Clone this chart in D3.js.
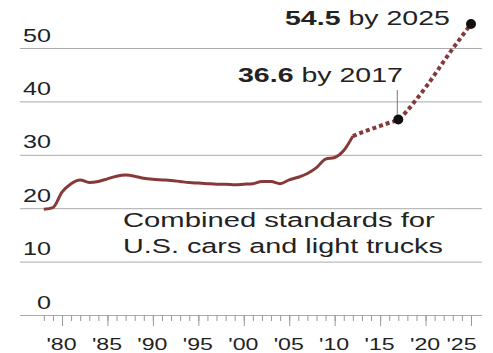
<!DOCTYPE html>
<html>
<head>
<meta charset="utf-8">
<script src="https://cdn.jsdelivr.net/npm/d3@7"></script>
<style>
  body { margin: 0; background: #fff; }
  text { font-family: "Liberation Sans", Arial, sans-serif; fill: #222; }
</style>
</head>
<body>
<div id="chart"></div>
<script>
// historical combined fuel economy (solid)
const histYears = [1978, 1979, 1980, 1981, 1982, 1983, 1984, 1985, 1986, 1987, 1988, 1989,
  1990, 1991, 1992, 1993, 1994, 1995, 1996, 1997, 1998, 1999, 2000, 2001, 2002, 2003,
  2004, 2005, 2006, 2007, 2008, 2009, 2010, 2011, 2012];
const histMpg = [19.8, 20.1, 23.0, 24.6, 25.3, 24.8, 25.0, 25.5, 26.0, 26.2, 26.0, 25.6,
  25.4, 25.3, 25.2, 25.0, 24.8, 24.7, 24.6, 24.5, 24.5, 24.4, 24.5, 24.6, 25.0, 25.0,
  24.6, 25.3, 25.8, 26.5, 27.6, 29.2, 29.5, 30.8, 33.5];

// standards (dotted)
const projYears = [2012, 2013, 2014, 2015, 2016, 2017, 2018, 2019, 2020, 2021, 2022, 2023, 2024, 2025];
const projMpg = [33.5, 34.2, 34.8, 35.4, 36.0, 36.6, 38.3, 40.4, 42.6, 45.0, 47.5, 49.9, 52.2, 54.5];

const markers = [
  {year: 2017, value: 36.6, bold: "36.6", rest: " by 2017"},
  {year: 2025, value: 54.5, bold: "54.5", rest: " by 2025"}
];

const yTicks = [0, 10, 20, 30, 40, 50];
const majorYears = [1980, 1985, 1990, 1995, 2000, 2005, 2010, 2015, 2020, 2025];
const minorYears = [1978, 1979, 1980, 1981, 1982, 1983, 1984, 1985, 1986, 1987, 1988, 1989,
  1990, 1991, 1992, 1993, 1994, 1995, 1996, 1997, 1998, 1999, 2000, 2001, 2002, 2003,
  2004, 2005, 2006, 2007, 2008, 2009, 2010, 2011, 2012, 2013, 2014, 2015, 2016, 2017,
  2018, 2019, 2020, 2021, 2022, 2023, 2024, 2025];
const yearLabel = d => "'" + String(d).slice(2);

const width = 493, height = 353;
const lineColor = "#863939";

const svg = d3.select("#chart").append("svg")
  .attr("width", width)
  .attr("height", height);

const x = d3.scaleLinear().domain([1980, 2025]).range([62, 471]);
const y = d3.scaleLinear().domain([0, 50]).range([315, 48]);

// stretch a text horizontally to a given width
function stretch(sel, px, py, w, anchor) {
  sel.attr("text-anchor", anchor || "start");
  const len = sel.node().getComputedTextLength();
  sel.attr("transform", `translate(${px},${py}) scale(${w / len},1)`);
}

// gridlines + y labels
const yAxis = svg.append("g")
  .attr("transform", "translate(482,0)")
  .call(d3.axisLeft(y).tickValues(yTicks).tickSize(462).tickFormat(d3.format("d")));
yAxis.select(".domain").remove();
yAxis.selectAll("line").attr("stroke", "#aaa").attr("stroke-width", 1);
yAxis.selectAll("text")
  .attr("x", 0).attr("dy", null)
  .style("font-size", "18px")
  .each(function(d) {
    const t = d3.select(this);
    t.attr("y", 0);
    t.attr("text-anchor", "end")
     .attr("transform", `translate(-431,${-7}) scale(1.4,1)`);
  });

// minor ticks
const minor = svg.append("g")
  .attr("transform", "translate(0,315)")
  .call(d3.axisBottom(x).tickValues(minorYears).tickSize(6).tickFormat(""));
minor.select(".domain").remove();
minor.selectAll("line").attr("stroke", "#999");

// major ticks
const major = svg.append("g")
  .attr("transform", "translate(0,315)")
  .call(d3.axisBottom(x).tickValues(majorYears).tickSize(11).tickFormat(yearLabel));
major.select(".domain").remove();
major.selectAll("line").attr("stroke", "#999");
major.selectAll("text")
  .attr("y", 0).attr("dy", null)
  .style("font-size", "17px")
  .attr("transform", d => `translate(${d === 2025 ? -10 : -1},35) scale(1.36,1)`);

// lines
const line = d3.line()
  .x(d => x(d[0]))
  .y(d => y(d[1]))
  .curve(d3.curveMonotoneX);

svg.append("path")
  .datum(histYears.map((yr, i) => [yr, histMpg[i]]))
  .attr("d", line)
  .attr("fill", "none")
  .attr("stroke", lineColor)
  .attr("stroke-width", 3)
  .attr("stroke-linejoin", "round");

svg.append("path")
  .datum(projYears.map((yr, i) => [yr, projMpg[i]]))
  .attr("d", line)
  .attr("fill", "none")
  .attr("stroke", lineColor)
  .attr("stroke-width", 4)
  .attr("stroke-dasharray", "4,3");

// leader for 2017
svg.append("line")
  .attr("x1", x(2017) - 1).attr("x2", x(2017) - 1)
  .attr("y1", 90).attr("y2", y(36.6) - 5)
  .attr("stroke", "#777").attr("stroke-width", 1);

svg.selectAll("circle.mark")
  .data(markers)
  .enter().append("circle")
  .attr("class", "mark")
  .attr("cx", d => x(d.year))
  .attr("cy", d => y(d.value))
  .attr("r", 5)
  .attr("fill", "#111");

// annotation labels
const labelPos = {2017: [238, 82], 2025: [285, 25]};
markers.forEach(m => {
  const t = svg.append("text").style("font-size", "21px");
  t.append("tspan").attr("font-weight", "bold").text(m.bold);
  t.append("tspan").text(m.rest);
  stretch(t, labelPos[m.year][0], labelPos[m.year][1], 165);
});

// caption
const cap1 = svg.append("text").style("font-size", "19.5px").text("Combined standards for");
stretch(cap1, 123, 227, 312);
const cap2 = svg.append("text").style("font-size", "19.5px").text("U.S. cars and light trucks");
stretch(cap2, 123, 253, 320);
</script>
</body>
</html>
